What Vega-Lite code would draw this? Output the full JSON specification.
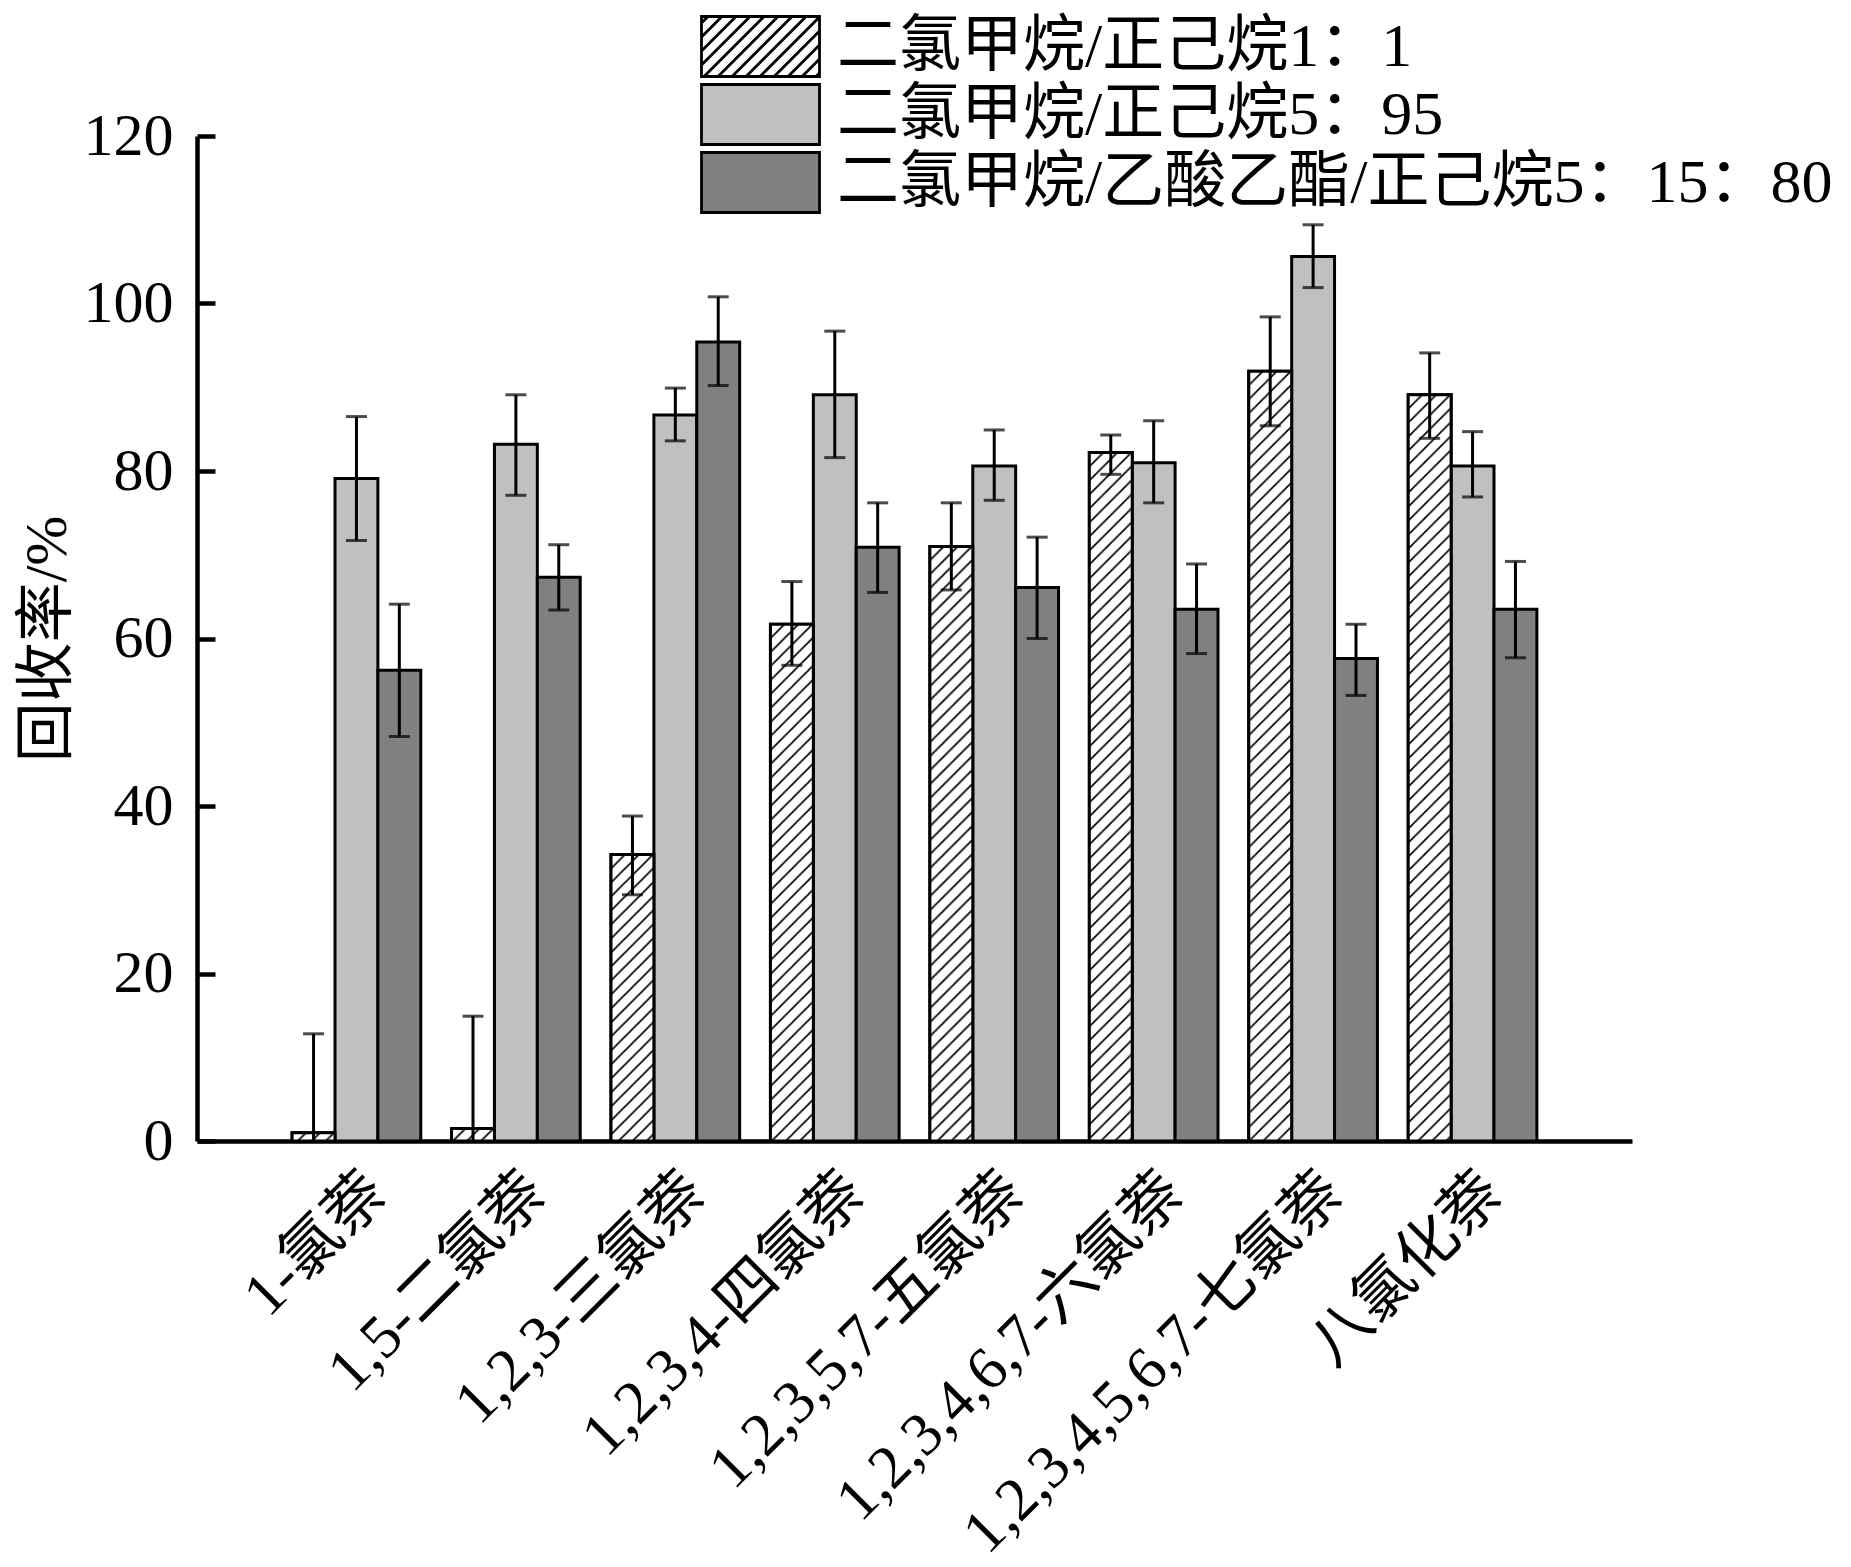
{
  "$schema": "https://vega.github.io/schema/vega-lite/v6.json",
  "width": 1435,
  "height": 1005,
  "autosize": {"type": "none"},
  "padding": {"left": 197, "top": 136, "right": 219, "bottom": 426},
  "background": "white",
  "config": {
    "view": {"stroke": null},
    "font": "Liberation Serif, Noto Sans CJK SC",
    "image": {},
    "axis": {
      "domainColor": "black",
      "domainWidth": 4.5,
      "tickColor": "black",
      "tickWidth": 4.5,
      "labelColor": "black",
      "titleColor": "black",
      "labelFont": "Liberation Serif, Noto Sans CJK SC",
      "titleFont": "Liberation Serif, Noto Sans CJK SC",
      "grid": false
    }
  },
  "data": {
    "values": [
      {"compound": "1-氯萘", "s": "二氯甲烷/正己烷1：1", "value": 1.0, "lo": -10.8, "hi": 12.8},
      {"compound": "1-氯萘", "s": "二氯甲烷/正己烷5：95", "value": 79.1, "lo": 71.7, "hi": 86.5},
      {"compound": "1-氯萘", "s": "二氯甲烷/乙酸乙酯/正己烷5：15：80", "value": 56.2, "lo": 48.3, "hi": 64.1},
      {"compound": "1,5-二氯萘", "s": "二氯甲烷/正己烷1：1", "value": 1.5, "lo": -11.8, "hi": 14.9},
      {"compound": "1,5-二氯萘", "s": "二氯甲烷/正己烷5：95", "value": 83.2, "lo": 77.1, "hi": 89.1},
      {"compound": "1,5-二氯萘", "s": "二氯甲烷/乙酸乙酯/正己烷5：15：80", "value": 67.3, "lo": 63.4, "hi": 71.2},
      {"compound": "1,2,3-三氯萘", "s": "二氯甲烷/正己烷1：1", "value": 34.2, "lo": 29.4, "hi": 38.8},
      {"compound": "1,2,3-三氯萘", "s": "二氯甲烷/正己烷5：95", "value": 86.7, "lo": 83.6, "hi": 89.9},
      {"compound": "1,2,3-三氯萘", "s": "二氯甲烷/乙酸乙酯/正己烷5：15：80", "value": 95.4, "lo": 90.2, "hi": 100.8},
      {"compound": "1,2,3,4-四氯萘", "s": "二氯甲烷/正己烷1：1", "value": 61.7, "lo": 56.8, "hi": 66.8},
      {"compound": "1,2,3,4-四氯萘", "s": "二氯甲烷/正己烷5：95", "value": 89.1, "lo": 81.6, "hi": 96.7},
      {"compound": "1,2,3,4-四氯萘", "s": "二氯甲烷/乙酸乙酯/正己烷5：15：80", "value": 70.9, "lo": 65.5, "hi": 76.2},
      {"compound": "1,2,3,5,7-五氯萘", "s": "二氯甲烷/正己烷1：1", "value": 71.0, "lo": 65.8, "hi": 76.2},
      {"compound": "1,2,3,5,7-五氯萘", "s": "二氯甲烷/正己烷5：95", "value": 80.6, "lo": 76.5, "hi": 84.9},
      {"compound": "1,2,3,5,7-五氯萘", "s": "二氯甲烷/乙酸乙酯/正己烷5：15：80", "value": 66.1, "lo": 60.0, "hi": 72.1},
      {"compound": "1,2,3,4,6,7-六氯萘", "s": "二氯甲烷/正己烷1：1", "value": 82.2, "lo": 79.6, "hi": 84.3},
      {"compound": "1,2,3,4,6,7-六氯萘", "s": "二氯甲烷/正己烷5：95", "value": 81.0, "lo": 76.2, "hi": 86.0},
      {"compound": "1,2,3,4,6,7-六氯萘", "s": "二氯甲烷/乙酸乙酯/正己烷5：15：80", "value": 63.5, "lo": 58.2, "hi": 68.9},
      {"compound": "1,2,3,4,5,6,7-七氯萘", "s": "二氯甲烷/正己烷1：1", "value": 91.9, "lo": 85.4, "hi": 98.4},
      {"compound": "1,2,3,4,5,6,7-七氯萘", "s": "二氯甲烷/正己烷5：95", "value": 105.6, "lo": 101.9, "hi": 109.4},
      {"compound": "1,2,3,4,5,6,7-七氯萘", "s": "二氯甲烷/乙酸乙酯/正己烷5：15：80", "value": 57.6, "lo": 53.2, "hi": 61.7},
      {"compound": "八氯化萘", "s": "二氯甲烷/正己烷1：1", "value": 89.1, "lo": 83.9, "hi": 94.1},
      {"compound": "八氯化萘", "s": "二氯甲烷/正己烷5：95", "value": 80.6, "lo": 76.9, "hi": 84.7},
      {"compound": "八氯化萘", "s": "二氯甲烷/乙酸乙酯/正己烷5：15：80", "value": 63.5, "lo": 57.7, "hi": 69.2}
    ]
  },
  "encoding": {
    "x": {
      "field": "compound",
      "type": "nominal",
      "scale": {
        "domain": ["1-氯萘", "1,5-二氯萘", "1,2,3-三氯萘", "1,2,3,4-四氯萘", "1,2,3,5,7-五氯萘", "1,2,3,4,6,7-六氯萘", "1,2,3,4,5,6,7-七氯萘", "八氯化萘"],
        "paddingInner": 0.193,
        "paddingOuter": 0.5965
      },
      "axis": {
        "title": null,
        "bandPosition": 0.5,
        "tickSize": -17,
        "labelAngle": -45,
        "labelAlign": "right",
        "labelBaseline": "top",
        "labelFontSize": 61,
        "labelPadding": 38,
        "labelLimit": 1000
      }
    },
    "xOffset": {
      "field": "s",
      "type": "nominal",
      "scale": {
        "domain": ["二氯甲烷/正己烷1：1", "二氯甲烷/正己烷5：95", "二氯甲烷/乙酸乙酯/正己烷5：15：80"],
        "paddingInner": 0,
        "paddingOuter": 0
      }
    }
  },
  "layer": [
    {
      "mark": {"type": "bar", "stroke": "black", "strokeWidth": 3},
      "encoding": {
        "y": {
          "field": "value",
          "type": "quantitative",
          "scale": {"domain": [0, 120], "nice": false},
          "axis": {
            "title": "回收率/%",
            "values": [0, 20, 40, 60, 80, 100, 120],
            "tickSize": -18,
            "labelFontSize": 60,
            "labelPadding": 42,
            "titleFontSize": 60,
            "titleFontWeight": "normal",
            "titlePadding": 5
          }
        },
        "fill": {
          "field": "s",
          "type": "nominal",
          "scale": {
            "domain": ["二氯甲烷/正己烷1：1", "二氯甲烷/正己烷5：95", "二氯甲烷/乙酸乙酯/正己烷5：15：80"],
            "range": ["#ffffff", "#c0c0c0", "#808080"]
          },
          "legend": {
            "title": null,
            "orient": "none",
            "legendX": 532,
            "legendY": -121,
            "padding": 0,
            "rowPadding": -5.3,
            "symbolType": "M-1.967,-1H1.967V1H-1.967Z",
            "symbolSize": 3600,
            "symbolStrokeColor": "black",
            "symbolStrokeWidth": 3,
            "labelFontSize": 62,
            "labelOffset": 45,
            "labelLimit": 2000,
            "labelColor": "black",
            "labelFont": "Liberation Serif, Noto Sans CJK SC",
            "encode": {
              "symbols": {
                "update": {
                  "shape": {"signal": "datum.value === '二氯甲烷/正己烷1：1' ? 'M-1.967,-1H1.967V1H-1.967Z M-1.967,-0.783L-1.75,-1 M-1.967,-0.316L-1.283,-1 M-1.967,0.151L-0.816,-1 M-1.967,0.618L-0.349,-1 M-1.882,1L0.118,-1 M-1.415,1L0.585,-1 M-0.948,1L1.052,-1 M-0.481,1L1.519,-1 M-0.014,1L1.967,-0.981 M0.453,1L1.967,-0.514 M0.92,1L1.967,-0.047 M1.387,1L1.967,0.42 M1.854,1L1.967,0.887' : 'M-1.967,-1H1.967V1H-1.967Z'"},
                  "stroke": {"value": "black"},
                  "strokeWidth": {"value": 2.8}
                }
              }
            }
          }
        }
      }
    },
    {
      "transform": [{"filter": "datum.s === '二氯甲烷/正己烷1：1'"}],
      "mark": {"type": "image", "aspect": false},
      "encoding": {
        "y": {"field": "value", "type": "quantitative"},
        "y2": {"datum": 0},
        "url": {"value": "data:image/svg+xml;charset=utf-8,%3Csvg xmlns='http://www.w3.org/2000/svg' width='100%25' height='100%25'%3E%3Cdefs%3E%3Cpattern id='h' width='14' height='14' patternUnits='userSpaceOnUse'%3E%3Cpath d='M-2,2L2,-2M0,14L14,0M12,16L16,12' stroke='black' stroke-width='1.7'/%3E%3C/pattern%3E%3C/defs%3E%3Crect width='100%25' height='100%25' fill='white'/%3E%3Crect width='100%25' height='100%25' fill='url(%23h)'/%3E%3C/svg%3E"}
      }
    },
    {
      "transform": [{"filter": "datum.s === '二氯甲烷/正己烷1：1'"}],
      "mark": {"type": "bar", "fill": "transparent", "stroke": "black", "strokeWidth": 3},
      "encoding": {
        "y": {"field": "value", "type": "quantitative"}
      }
    },
    {
      "mark": {"type": "rule", "color": "black", "strokeWidth": 3, "clip": true},
      "encoding": {
        "y": {"field": "lo", "type": "quantitative"},
        "y2": {"field": "hi"}
      }
    },
    {
      "mark": {"type": "tick", "color": "black", "size": 21, "thickness": 3, "clip": true},
      "encoding": {
        "y": {"field": "lo", "type": "quantitative"}
      }
    },
    {
      "mark": {"type": "tick", "color": "black", "size": 21, "thickness": 3, "clip": true},
      "encoding": {
        "y": {"field": "hi", "type": "quantitative"}
      }
    }
  ]
}
